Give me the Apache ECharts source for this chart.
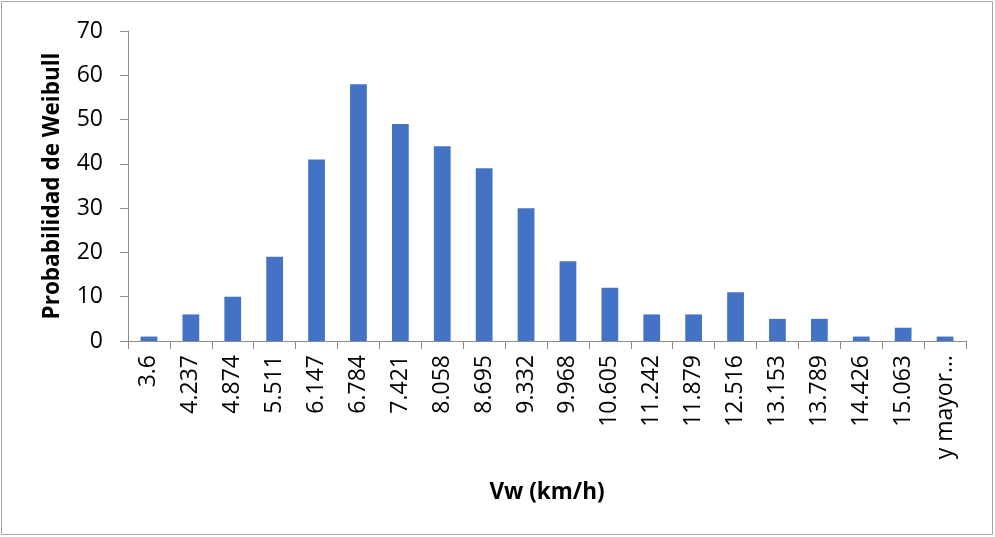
<!DOCTYPE html>
<html>
<head>
<meta charset="utf-8">
<script src="https://cdn.jsdelivr.net/npm/echarts@6/dist/echarts.min.js"></script>
<style>
  html, body { margin: 0; padding: 0; background: #fff; }
  #chart { width: 995px; height: 537px; }
</style>
</head>
<body>
<div id="chart"></div>
<script>
// Wind speed bins (km/h) and their Weibull frequencies
const categories = ['3.6', '4.237', '4.874', '5.511', '6.147', '6.784', '7.421', '8.058', '8.695', '9.332',
  '9.968', '10.605', '11.242', '11.879', '12.516', '13.153', '13.789', '14.426', '15.063', 'y mayor…'];
const frequencies = [1, 6, 10, 19, 41, 58, 49, 44, 39, 30, 18, 12, 6, 6, 11, 5, 5, 1, 3, 1];
const yTicks = { min: 0, max: 70, interval: 10 };

const FONT = '"Open Sans", "Liberation Sans", sans-serif';
const chart = echarts.init(document.getElementById('chart'), null, { renderer: 'canvas' });

chart.setOption({
  animation: false,
  backgroundColor: '#ffffff',
  graphic: [{
    type: 'rect',
    shape: { x: 1.5, y: 1.5, width: 991, height: 533 },
    style: { fill: 'none', stroke: '#a6a6a6', lineWidth: 1 },
    silent: true
  }],
  grid: { left: 128, right: 29, top: 31, bottom: 196, containLabel: false },
  xAxis: {
    type: 'category',
    data: categories,
    name: 'Vw (km/h)',
    nameLocation: 'middle',
    nameGap: 140,
    nameTextStyle: { fontFamily: FONT, fontSize: 22.5, fontWeight: 'bold', color: '#000' },
    axisLine: { lineStyle: { color: '#8c8c8c', width: 1 } },
    axisTick: { show: true, length: 8, alignWithLabel: false, lineStyle: { color: '#8c8c8c' } },
    axisLabel: { rotate: 90, margin: 14, fontFamily: FONT, fontSize: 23, color: '#000', interval: 0 }
  },
  yAxis: {
    type: 'value',
    min: yTicks.min,
    max: yTicks.max,
    interval: yTicks.interval,
    name: 'Probabilidad de Weibull',
    nameLocation: 'middle',
    nameGap: 64,
    nameTextStyle: { fontFamily: FONT, fontSize: 22.5, fontWeight: 'bold', color: '#000' },
    axisLine: { show: true, lineStyle: { color: '#8c8c8c', width: 1 } },
    axisTick: { show: true, length: 8, lineStyle: { color: '#8c8c8c' } },
    splitLine: { show: false },
    axisLabel: { margin: 25, fontFamily: FONT, fontSize: 23, color: '#000' }
  },
  series: [{
    type: 'bar',
    data: frequencies,
    barWidth: '40%',
    itemStyle: { color: '#4472c4' }
  }]
});
</script>
</body>
</html>
